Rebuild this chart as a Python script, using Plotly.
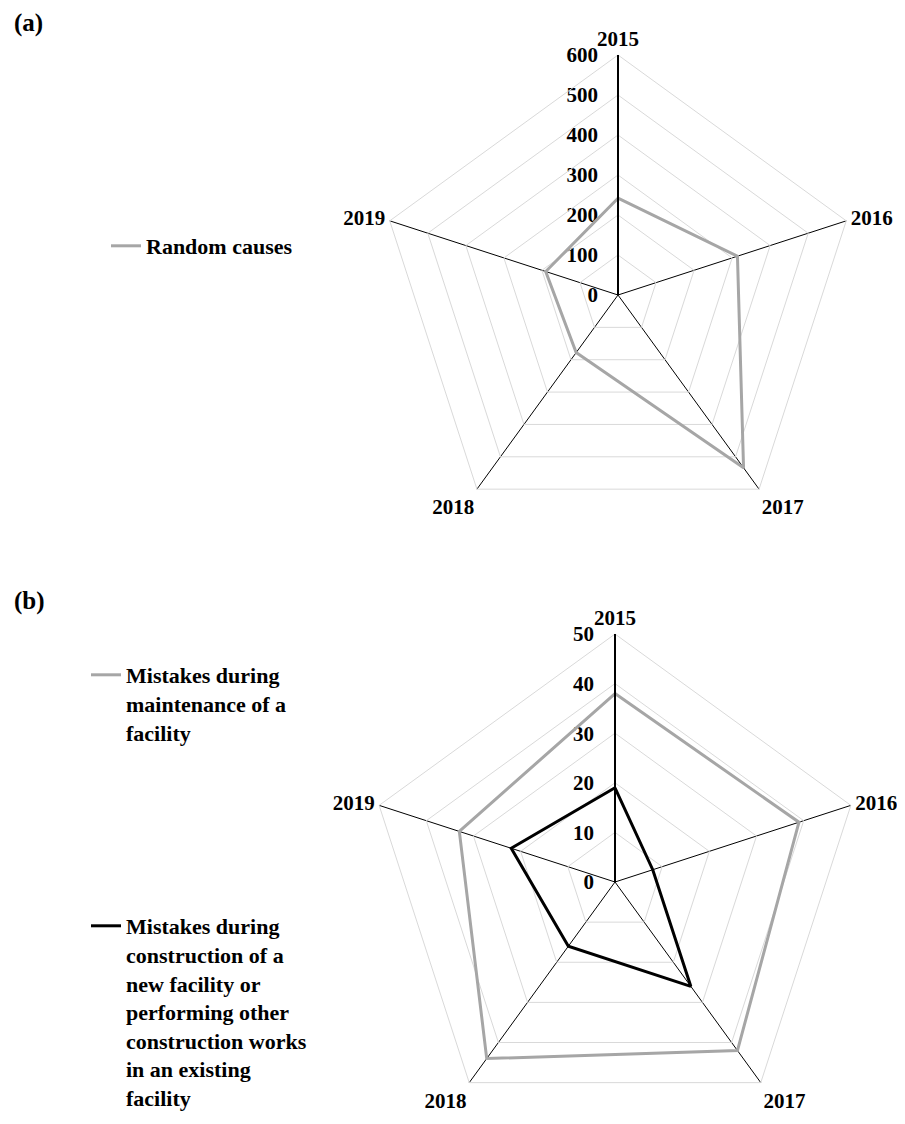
import plotly.graph_objects as go

years = ["2015", "2016", "2017", "2018", "2019"]

random_causes = [242, 314, 534, 178, 190]

maintenance_mistakes = [38, 39, 42, 44, 33]
construction_mistakes = [19, 8, 26, 16, 22]

ticks_a = [0, 100, 200, 300, 400, 500, 600]
ticks_b = [0, 10, 20, 30, 40, 50]

GRAY = "#a6a6a6"
GRID = "#d9d9d9"
FONT = dict(family="Liberation Serif", size=21, color="black", weight="bold")
LFONT = dict(family="Liberation Serif", size=22, color="black", weight="bold")

# page has an 8px body margin; figure coordinates = reference pixels - 8
OFF = 8
W, H = 897, 1124


def closed(v):
    return list(v) + [v[0]]


def px(x):
    return (x - OFF) / W


def py(y):
    return 1 - (y - OFF) / H


fig = go.Figure()

fig.add_trace(go.Scatterpolar(
    r=closed(random_causes), theta=closed(years), mode="lines",
    line=dict(color=GRAY, width=3), name="Random causes",
    subplot="polar", legend="legend"))

fig.add_trace(go.Scatterpolar(
    r=closed(maintenance_mistakes), theta=closed(years), mode="lines",
    line=dict(color=GRAY, width=3),
    name="Mistakes during<br>maintenance of a<br>facility",
    subplot="polar2", legend="legend2"))

fig.add_trace(go.Scatterpolar(
    r=closed(construction_mistakes), theta=closed(years), mode="lines",
    line=dict(color="black", width=3),
    name="Mistakes during<br>construction of a<br>new facility or<br>performing other<br>construction works<br>in an existing<br>facility",
    subplot="polar2", legend="legend3"))

# empty carriers for the value-scale axes (tick labels of the radial scales)
fig.add_trace(go.Scatter(x=[None], y=[None], xaxis="x", yaxis="y",
                         showlegend=False, hoverinfo="skip"))
fig.add_trace(go.Scatter(x=[None], y=[None], xaxis="x2", yaxis="y2",
                         showlegend=False, hoverinfo="skip"))


def polar_cfg(cx, cy, r, rng, tickvals):
    cx -= OFF
    cy -= OFF
    return dict(
        domain=dict(x=[(cx - r) / W, (cx + r) / W],
                    y=[1 - (cy + r) / H, 1 - (cy - r) / H]),
        gridshape="linear",
        bgcolor="rgba(0,0,0,0)",
        angularaxis=dict(
            type="category", categoryarray=years, direction="clockwise",
            rotation=90, showline=True, linecolor=GRID, linewidth=1,
            showgrid=True, gridcolor="black", gridwidth=1.2, ticks="",
            tickfont=FONT),
        radialaxis=dict(
            range=rng, tickvals=tickvals, angle=90, side="counterclockwise",
            showline=True, linecolor="black", linewidth=2,
            showgrid=True, gridcolor=GRID, gridwidth=1, ticks="",
            showticklabels=False),
    )


def value_axis(cy, r, rng, tickvals, label_right):
    return dict(
        domain=[py(cy), py(cy - r)], range=rng, tickvals=tickvals,
        anchor="free", position=px(label_right + 3), side="left",
        showline=False, showgrid=False, zeroline=False, ticks="",
        tickfont=FONT, fixedrange=True, automargin=False)


hidden_x = dict(visible=False, range=[0, 1], fixedrange=True, automargin=False)

fig.update_layout(
    width=W, height=H,
    margin=dict(l=0, r=0, t=0, b=0, autoexpand=False),
    paper_bgcolor="white",
    plot_bgcolor="rgba(0,0,0,0)",
    font=FONT,
    polar=polar_cfg(618, 295, 240, [0, 600], ticks_a),
    polar2=polar_cfg(615, 882, 248, [0, 50], ticks_b),
    xaxis=dict(hidden_x, domain=[px(380), px(600)]),
    yaxis=value_axis(295, 240, [0, 600], ticks_a, 595),
    xaxis2=dict(hidden_x, domain=[px(380), px(600)]),
    yaxis2=value_axis(882, 248, [0, 50], ticks_b, 591),
    legend=dict(x=px(106), y=py(225), xanchor="left", yanchor="top",
                font=LFONT, bgcolor="rgba(0,0,0,0)", valign="top"),
    legend2=dict(x=px(86), y=py(654), xanchor="left", yanchor="top",
                 font=LFONT, bgcolor="rgba(0,0,0,0)", valign="top"),
    legend3=dict(x=px(86), y=py(905), xanchor="left", yanchor="top",
                 font=LFONT, bgcolor="rgba(0,0,0,0)", valign="top"),
    showlegend=True,
    annotations=[
        dict(text="(<b>a</b>)", x=px(12), y=py(23), xref="paper", yref="paper",
             xanchor="left", yanchor="middle", showarrow=False,
             font=dict(family="Liberation Serif", size=25, color="black")),
        dict(text="(<b>b</b>)", x=px(12), y=py(601), xref="paper", yref="paper",
             xanchor="left", yanchor="middle", showarrow=False,
             font=dict(family="Liberation Serif", size=25, color="black")),
    ],
)

fig.write_html("out.html")
